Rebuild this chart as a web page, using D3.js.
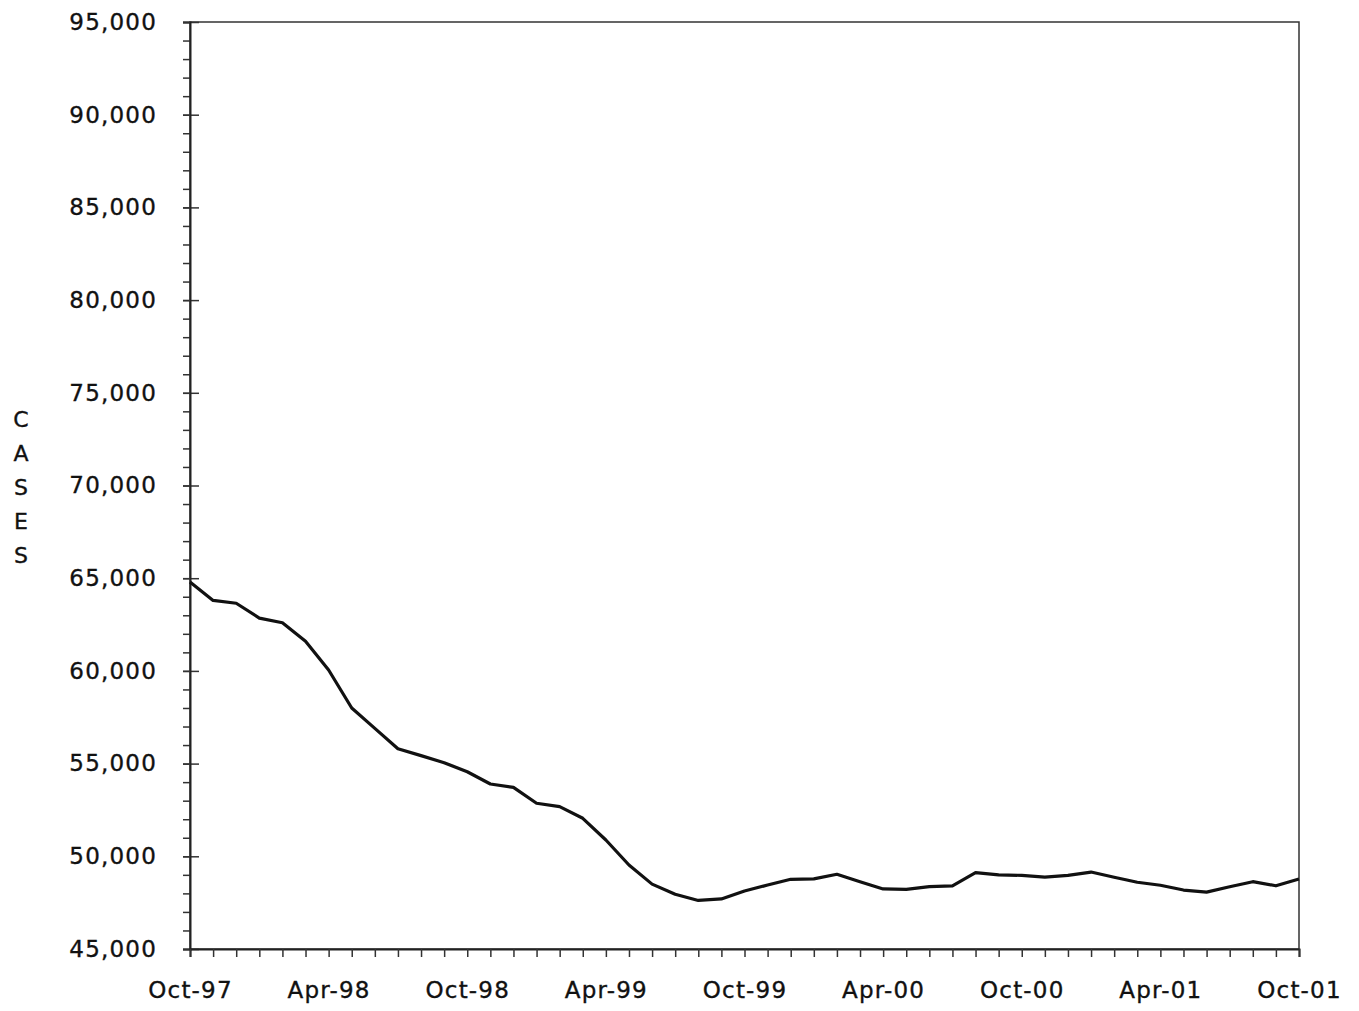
<!DOCTYPE html>
<html>
<head>
<meta charset="utf-8">
<script src="https://cdn.jsdelivr.net/npm/d3@7"></script>
<style>
  body { margin: 0; background: #fff; }
  text { font-family: "DejaVu Sans", sans-serif; fill: #111; }
</style>
</head>
<body>
<div id="chart"></div>
<script>
// monthly caseload, Oct-97 .. Oct-01
var startMonth = new Date(1997, 9, 1);
var cases = [64800, 63800, 63650, 62850, 62600, 61600, 60050, 58000, 56900, 55800,
             55430, 55050, 54560, 53900, 53720, 52860, 52680, 52050, 50880, 49530,
             48500, 47950, 47620, 47700, 48130, 48450, 48760, 48780, 49030, 48630,
             48240, 48220, 48360, 48410, 49120, 49000, 48970, 48880, 48975, 49150,
             48870, 48600, 48440, 48180, 48070, 48360, 48630, 48410, 48780];
var xTickLabels = ["Oct-97", "Apr-98", "Oct-98", "Apr-99", "Oct-99", "Apr-00", "Oct-00", "Apr-01", "Oct-01"];
var yTicks = [45000, 50000, 55000, 60000, 65000, 70000, 75000, 80000, 85000, 90000, 95000];
var yLabel = "CASES";

var W = 1359, H = 1011;
var margin = {top: 22, right: 60, bottom: 62, left: 190},
    width = W - margin.left - margin.right,
    height = H - margin.top - margin.bottom;

var months = cases.map(function(d, i) { return d3.timeMonth.offset(startMonth, i); });
var data = cases.map(function(d, i) { return {date: months[i], value: d}; });

var svg = d3.select("#chart").append("svg")
    .attr("width", W)
    .attr("height", H)
  .append("g")
    .attr("transform", "translate(" + margin.left + "," + margin.top + ")");

var x = d3.scaleLinear()
    .domain([0, cases.length - 1])
    .range([0, width]);

var y = d3.scaleLinear()
    .domain([45000, 95000])
    .range([height, 0]);

// plot frame
svg.append("rect")
    .attr("x", 0).attr("y", 0)
    .attr("width", width).attr("height", height)
    .attr("fill", "none")
    .attr("stroke", "#333")
    .attr("stroke-width", 1.5);

// y minor ticks every 1,000
var minor = d3.range(45000, 95001, 1000);
svg.append("g")
    .call(d3.axisLeft(y).tickValues(minor).tickSize(7).tickFormat(""))
    .call(function(g) { g.select(".domain").remove(); })
    .selectAll("line").attr("stroke", "#333").attr("stroke-width", 1.5);

// y major ticks cross the axis
svg.append("g")
    .call(d3.axisRight(y).tickValues(yTicks).tickSize(9).tickFormat(""))
    .call(function(g) { g.select(".domain").remove(); })
    .selectAll("line").attr("stroke", "#333").attr("stroke-width", 1.5);

function styleLabels(sel) {
    sel.style("font-size", "23px")
       .style("letter-spacing", "1.2px")
       .attr("fill", "#111")
       .attr("stroke", "#111")
       .attr("stroke-width", 0.35);
}

var yAxis = svg.append("g")
    .call(d3.axisLeft(y).tickValues(yTicks).tickSize(7).tickPadding(26).tickFormat(d3.format(",")));
yAxis.select(".domain").attr("stroke", "#222").attr("stroke-width", 2);
yAxis.selectAll("line").attr("stroke", "#333").attr("stroke-width", 1.5);
yAxis.selectAll("text").call(styleLabels);

// x axis: a tick every month, a label every six
var xAxis = svg.append("g")
    .attr("transform", "translate(0," + height + ")")
    .call(d3.axisBottom(x)
        .tickValues(d3.range(0, cases.length))
        .tickSize(8)
        .tickPadding(25)
        .tickFormat(function(i) { return i % 6 === 0 ? xTickLabels[i / 6] : ""; }));
xAxis.select(".domain").attr("stroke", "#222").attr("stroke-width", 2);
xAxis.selectAll("line").attr("stroke", "#333").attr("stroke-width", 1.5);
xAxis.selectAll("text").call(styleLabels);

// vertical stacked axis title
svg.append("g")
    .selectAll("text")
    .data(yLabel.split(""))
    .enter()
    .append("text")
      .attr("x", 21 - margin.left)
      .attr("y", function(d, i) { return 427 - margin.top + i * 34; })
      .attr("text-anchor", "middle")
      .style("font-size", "22px")
      .attr("stroke", "#111")
      .attr("stroke-width", 0.35)
      .text(function(d) { return d; });

var line = d3.line()
    .x(function(d, i) { return x(i); })
    .y(function(d) { return y(d.value); });

svg.append("path")
    .datum(data)
    .attr("fill", "none")
    .attr("stroke", "#111")
    .attr("stroke-width", 3.2)
    .attr("stroke-linejoin", "round")
    .attr("d", line);
</script>
</body>
</html>
